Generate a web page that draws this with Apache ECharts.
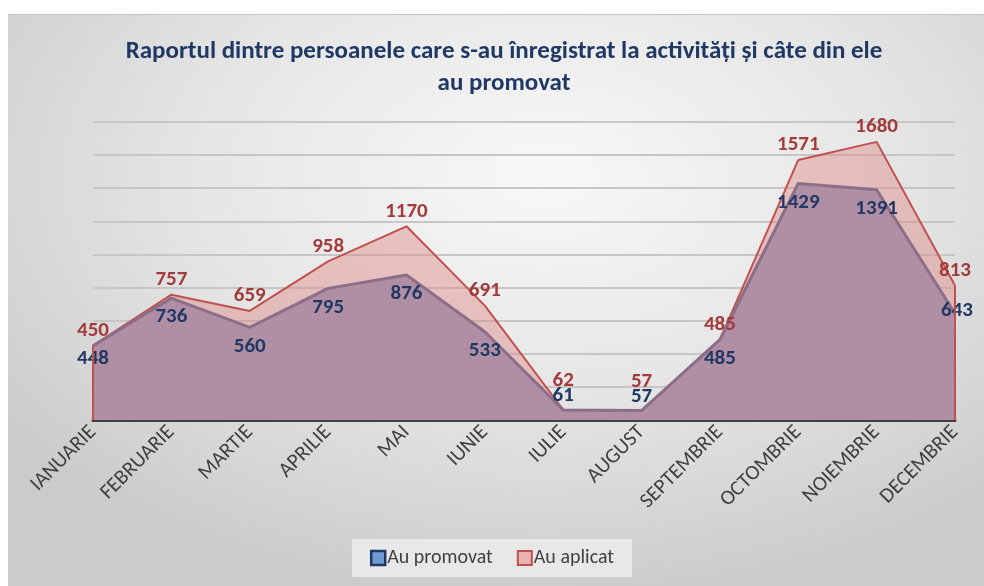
<!DOCTYPE html>
<html>
<head>
<meta charset="utf-8">
<title>Raportul dintre persoane</title>
<script src="https://cdn.jsdelivr.net/npm/echarts@6/dist/echarts.min.js"></script>
<style>
  html, body { margin: 0; padding: 0; background: #fff; }
  #bg {
    position: absolute; left: 8px; top: 14px; width: 976px; height: 572px;
    border-top: 1px solid #c4c4c4;
    background: radial-gradient(ellipse 70% 75% at 55% 28%, #f8f8f8 0%, #e6e6e6 50%, #cbcbcb 100%);
  }
  #chart { position: absolute; left: 0; top: 0; width: 984px; height: 586px; }
</style>
</head>
<body>
<div id="bg"></div>
<div id="chart"></div>
<script type="text/javascript">
// date
var luni = ['IANUARIE', 'FEBRUARIE', 'MARTIE', 'APRILIE', 'MAI', 'IUNIE', 'IULIE', 'AUGUST', 'SEPTEMBRIE', 'OCTOMBRIE', 'NOIEMBRIE', 'DECEMBRIE'];
var aplicat = [450, 757, 659, 958, 1170, 691, 62, 57, 485, 1571, 1680, 813];
var promovat = [448, 736, 560, 795, 876, 533, 61, 57, 485, 1429, 1391, 643];

var font = "Carlito, 'Liberation Sans Narrow', 'Open Sans', sans-serif";
var rosu = '#c0504d';
var albastru = '#1f3864';

// etichete: cateva sunt mutate ca sa nu se suprapuna (ca in Excel)
var dateAplicat = aplicat.map(function (v, i) {
  var d = { value: v };
  if (i === 6 || i === 7) d.label = { offset: [0, -14] };
  return d;
});
var datePromovat = promovat.map(function (v, i) {
  var d = { value: v };
  if (i === 6 || i === 7) d.label = { position: 'top', distance: 3 };
  if (i === 0) d.label = { distance: 2 };
  if (i === 11) d.label = { position: 'inside', offset: [2, -3] };
  return d;
});

var myChart = echarts.init(document.getElementById('chart'));
var option = {
  backgroundColor: 'transparent',
  textStyle: { fontFamily: font },
  title: {
    text: 'Raportul dintre persoanele care s-au înregistrat la activități și câte din ele\nau promovat',
    left: 499,
    textAlign: 'center',
    top: 31,
    textStyle: { fontFamily: font, fontSize: 25, fontWeight: 'bold', color: albastru, lineHeight: 32 }
  },
  legend: {
    bottom: 9,
    left: 'center',
    icon: 'rect',
    itemWidth: 14,
    itemHeight: 14,
    itemGap: 24,
    padding: [9, 18],
    backgroundColor: 'rgba(236,236,236,0.85)',
    textStyle: { fontFamily: font, fontSize: 20, color: '#404040', padding: [0, 0, 0, -3] },
    data: [
      { name: 'Au promovat', itemStyle: { color: '#6f9bd1', borderColor: albastru, borderWidth: 2.5 } },
      { name: 'Au aplicat', itemStyle: { color: '#eab3b2', borderColor: rosu, borderWidth: 2 } }
    ]
  },
  grid: { left: 93, right: 29, top: 122, bottom: 166 },
  xAxis: {
    type: 'category',
    boundaryGap: false,
    data: luni,
    axisTick: { show: false },
    axisLine: { lineStyle: { color: '#404040', width: 3 } },
    axisLabel: { rotate: 45, fontSize: 21, color: '#404040', margin: 9, fontFamily: font }
  },
  yAxis: {
    type: 'value',
    min: 0,
    max: 1800,
    interval: 200,
    axisLabel: { show: false },
    axisLine: { show: false },
    axisTick: { show: false },
    splitLine: { lineStyle: { color: '#c6c6c6', width: 2 } }
  },
  series: [
    {
      name: 'Au aplicat',
      type: 'line',
      z: 2,
      data: dateAplicat,
      symbol: 'none',
      lineStyle: { color: rosu, width: 2 },
      itemStyle: { color: rosu },
      areaStyle: { color: 'rgba(222,130,128,0.6)' },
      markLine: {
        silent: true,
        symbol: 'none',
        label: { show: false },
        lineStyle: { color: rosu, width: 2, type: 'solid' },
        data: [
          [{ coord: [luni[0], 0] }, { coord: [luni[0], aplicat[0]] }],
          [{ coord: [luni[11], 0] }, { coord: [luni[11], aplicat[11]] }]
        ]
      }
    },
    {
      name: 'Au promovat',
      type: 'line',
      z: 3,
      data: datePromovat,
      symbol: 'circle',
      symbolSize: 1,
      lineStyle: { color: '#8c6e88', width: 3 },
      itemStyle: { color: '#8c6e88' },
      areaStyle: { color: '#b08fa5', opacity: 1 },
      label: {
        show: true, position: 'bottom', distance: 8,
        color: albastru, fontSize: 21, fontWeight: 'bold', fontFamily: font
      }
    },
    {
      // etichetele pentru "Au aplicat", desenate peste aria albastra
      name: 'Au aplicat',
      type: 'line',
      z: 4,
      data: dateAplicat,
      symbol: 'circle',
      symbolSize: 1,
      silent: true,
      lineStyle: { width: 0, color: 'rgba(0,0,0,0)' },
      itemStyle: { color: 'rgba(0,0,0,0)' },
      label: {
        show: true, position: 'top', distance: 4,
        color: '#a33b3b', fontSize: 21, fontWeight: 'bold', fontFamily: font
      }
    }
  ]
};
myChart.setOption(option);
</script>
</body>
</html>
